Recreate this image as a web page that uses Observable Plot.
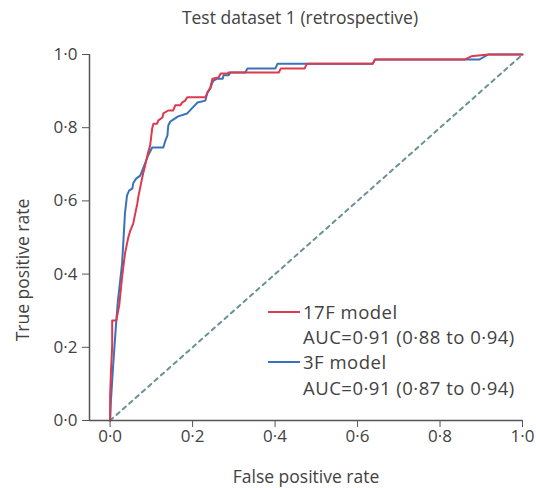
<!DOCTYPE html>
<html><head><meta charset="utf-8">
<script src="https://cdn.jsdelivr.net/npm/d3@7"></script>
<script src="https://cdn.jsdelivr.net/npm/@observablehq/plot@0.6"></script>
<style>
body{margin:0;background:#fff;}
#wrap{position:relative;width:536px;height:488px;font-family:"Open Sans",sans-serif;color:#424242;}
#title{position:absolute;left:32px;top:4px;width:536px;text-align:center;font-size:17.5px;line-height:26px;}
#chart{position:absolute;left:0;top:32px;}
#ylab{position:absolute;left:22px;top:270px;transform:translate(-50%,-50%) rotate(-90deg);white-space:nowrap;font-size:17.5px;}
#legend{position:absolute;left:268px;top:299px;font-size:18.5px;line-height:25.2px;letter-spacing:0.5px;}
#legend .row{display:flex;align-items:center;height:25.2px;white-space:nowrap;}
#legend .sw{display:inline-block;width:32px;height:0;border-top:2px solid;margin-right:3px;}
#legend .ind{padding-left:35px;}
</style></head>
<body><div id="wrap"><div id="title"></div><div id="chart"></div><div id="ylab"></div><div id="legend"></div></div>
<script>
const titleText = "Test dataset 1 (retrospective)";
const xLabel = "False positive rate";
const yLabel = "True positive rate";
const seriesNames = ["17F model", "3F model"];
const seriesAUC = ["AUC=0·91 (0·88 to 0·94)", "AUC=0·91 (0·87 to 0·94)"];
const seriesColors = ["#dc3a4f", "#3a72ba"];
const tickValues = [0, 0.2, 0.4, 0.6, 0.8, 1.0];

// 17F model ROC
const fpr17 = [0,0,0.002,0.005,0.005,0.015,0.022,0.029,0.036,0.044,0.049,0.056,0.061,0.066,0.068,0.073,0.080,0.085,0.092,0.097,0.102,0.105,0.114,0.117,0.127,0.129,0.141,0.153,0.158,0.170,0.175,0.182,0.187,0.231,0.236,0.243,0.248,0.263,0.268,0.285,0.287,0.409,0.414,0.472,0.477,0.637,0.642,0.859,0.876,0.917,1.0];
const tpr17 = [0,0.068,0.131,0.205,0.273,0.273,0.314,0.391,0.456,0.500,0.519,0.538,0.566,0.593,0.609,0.637,0.675,0.697,0.732,0.751,0.798,0.811,0.811,0.820,0.828,0.839,0.847,0.847,0.861,0.861,0.869,0.874,0.883,0.883,0.896,0.910,0.934,0.937,0.948,0.948,0.951,0.951,0.962,0.962,0.975,0.975,0.986,0.986,0.995,1.0,1.0];

// 3F model ROC
const fpr3 = [0,0.002,0.007,0.015,0.019,0.029,0.032,0.036,0.041,0.046,0.054,0.056,0.063,0.073,0.080,0.092,0.102,0.129,0.134,0.139,0.141,0.146,0.153,0.165,0.187,0.200,0.212,0.231,0.236,0.243,0.248,0.251,0.260,0.273,0.275,0.287,0.292,0.328,0.333,0.401,0.406,0.637,0.642,0.895,0.917,1.0];
const tpr3 = [0,0.055,0.145,0.273,0.328,0.429,0.486,0.566,0.615,0.628,0.634,0.648,0.661,0.669,0.689,0.724,0.746,0.746,0.765,0.779,0.806,0.817,0.822,0.831,0.839,0.855,0.869,0.874,0.896,0.907,0.923,0.929,0.934,0.934,0.943,0.943,0.951,0.951,0.962,0.962,0.975,0.975,0.986,0.986,1.0,1.0];

const chanceX = [0, 1];
const chanceY = [0, 1];

const fmt = d => d3.format(".1f")(d).replace(".", "·");
const rows = (xs, ys) => xs.map((x, i) => ({x, y: ys[i]}));

const plot = Plot.plot({
  width: 536,
  height: 456,
  marginLeft: 89,
  marginRight: 14,
  marginTop: 22,
  marginBottom: 68,
  style: {fontFamily: "'Open Sans', sans-serif", fontSize: "17px", color: "#424242", background: "transparent"},
  x: {domain: [-0.05, 1]},
  y: {domain: [0, 1]},
  marks: [
    Plot.line(rows(chanceX, chanceY), {x: "x", y: "y", stroke: "#6a9196", strokeWidth: 2, strokeDasharray: "4,4.5"}),
    Plot.line(rows(fpr3, tpr3), {x: "x", y: "y", stroke: seriesColors[1], strokeWidth: 2}),
    Plot.line(rows(fpr17, tpr17), {x: "x", y: "y", stroke: seriesColors[0], strokeWidth: 2}),
    Plot.ruleY([0], {stroke: "#555", strokeWidth: 1.5}),
    Plot.ruleX([-0.05], {stroke: "#555", strokeWidth: 1.5}),
    Plot.axisX({ticks: tickValues, tickFormat: fmt, tickSize: 7, tickPadding: 2, stroke: "#555", label: null, fontSize: 17}),
    Plot.axisX({ticks: [], label: xLabel, labelAnchor: "center", labelArrow: "none", labelOffset: 62, fontSize: 17.5}),
    Plot.axisY({ticks: tickValues, tickFormat: fmt, tickSize: 7, tickPadding: 5, stroke: "#555", label: null, fontSize: 17})
  ]
});
document.getElementById("chart").appendChild(plot);
document.getElementById("title").textContent = titleText;
document.getElementById("ylab").textContent = yLabel;
const lg = document.getElementById("legend");
seriesNames.forEach((n, i) => {
  const r1 = document.createElement("div"); r1.className = "row";
  const sw = document.createElement("span"); sw.className = "sw"; sw.style.borderColor = seriesColors[i];
  r1.appendChild(sw); r1.appendChild(document.createTextNode(n));
  const r2 = document.createElement("div"); r2.className = "row ind"; r2.textContent = seriesAUC[i];
  lg.appendChild(r1); lg.appendChild(r2);
});
</script></body></html>
